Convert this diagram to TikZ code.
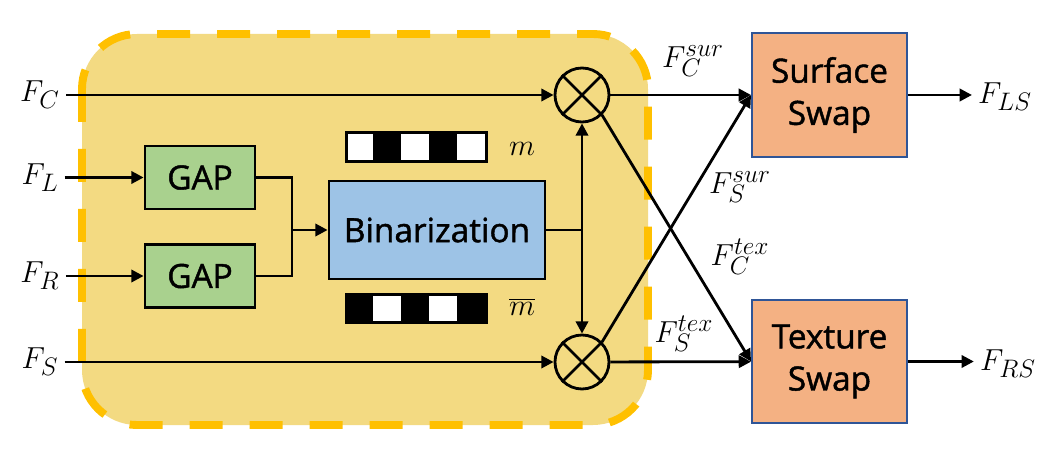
\documentclass[tikz,border=0pt]{standalone}
\usepackage{fontspec}
\setmainfont{Open Sans}
\newfontfamily\boxfont{Open Sans}[FakeBold=1.3]
\usetikzlibrary{arrows.meta,positioning,calc}

\definecolor{fillyellow}{RGB}{243,218,130}
\definecolor{dashyellow}{RGB}{255,192,0}
\definecolor{gapgreen}{RGB}{169,209,142}
\definecolor{binblue}{RGB}{157,195,230}
\definecolor{swaporange}{RGB}{244,177,131}
\definecolor{swapborder}{RGB}{47,85,151}

\begin{document}
\begin{tikzpicture}
[font=\fontsize{19}{24}\selectfont,
gapbox/.style={shape=rectangle,draw=black,line width=1.6pt,fill=gapgreen,minimum width=2.2cm,minimum height=1.26cm,font=\fontsize{19}{24}\boxfont},
binbox/.style={shape=rectangle,draw=black,line width=1.6pt,fill=binblue,minimum width=4.32cm,minimum height=1.96cm,font=\fontsize{19}{24}\boxfont},
swapbox/.style={shape=rectangle,draw=swapborder,line width=1.1pt,fill=swaporange,minimum width=3.1cm,minimum height=2.47cm,align=center,font=\fontsize{19}{24}\boxfont},
mulnode/.style={shape=circle,draw=black,line width=1.6pt,minimum size=1.08cm,inner sep=0pt},
maskbar/.style={shape=rectangle,draw=black,line width=1.6pt,fill=white,minimum width=2.8cm,minimum height=0.57cm,inner sep=0pt},
myedge/.style={line width=1.6pt},
myarrow/.style={myedge,-{Triangle[length=7pt,width=7pt]}}]

\useasboundingbox (0,0) rectangle (21.04,-9.04);

\draw[fill=fillyellow,draw=dashyellow,line width=4.5pt,dash pattern=on 0.66cm off 0.54cm,rounded corners=1.1cm] (1.64,-0.68) rectangle (12.96,-8.5);

\node (fc) at (0.8,-1.9) {$F_C$};
\node (fl) at (0.8,-3.55) {$F_L$};
\node (fr) at (0.8,-5.52) {$F_R$};
\node (fs) at (0.8,-7.24) {$F_S$};

\node (gap1) [gapbox] at (4.0,-3.55) {GAP};
\node (gap2) [gapbox] at (4.0,-5.52) {GAP};
\node (bin) [binbox] at (8.74,-4.6) {Binarization};

\node (mask) [maskbar] at (8.33,-2.94) {};
\foreach \i in {1,3}
  \fill ($(mask.south west)+(\i*0.56,0)$) rectangle ++(0.56,0.57);
\node (maskinv) [maskbar] at (8.33,-6.17) {};
\foreach \i in {0,2,4}
  \fill ($(maskinv.south west)+(\i*0.56,0)$) rectangle ++(0.56,0.57);
\node (mlab) at (10.44,-2.98) {$m$};
\node (mbarlab) at (10.44,-6.14) {$\overline{m}$};

\node (mul1) [mulnode] at (11.64,-1.9) {};
\node (mul2) [mulnode] at (11.64,-7.24) {};
\draw[myedge] (mul1.north west) -- (mul1.south east) (mul1.north east) -- (mul1.south west);
\draw[myedge] (mul2.north west) -- (mul2.south east) (mul2.north east) -- (mul2.south west);

\node (surf) [swapbox] at (16.59,-1.9) {Surface\\Swap};
\node (tex) [swapbox] at (16.59,-7.23) {Texture\\Swap};
\node (fls) at (20.1,-1.94) {$F_{LS}$};
\node (frs) at (20.16,-7.27) {$F_{RS}$};

\node (fcsur) at (13.86,-1.22) {$F_C^{sur}$};
\node (fssur) at (14.8,-3.74) {$F_S^{sur}$};
\node (fctex) at (14.8,-5.14) {$F_C^{tex}$};
\node (fstex) at (13.68,-6.68) {$F_S^{tex}$};

\coordinate (jn) at (5.84,-4.6);
\coordinate (bj) at (mul1 |- bin);

\draw[myarrow] (fc) -- (mul1);
\draw[myarrow] (fl) -- (gap1);
\draw[myarrow] (fr) -- (gap2);
\draw[myarrow] (fs) -- (mul2);
\draw[myedge] (gap1) -| (jn) |- (gap2);
\draw[myarrow] (jn) -- (bin);
\draw[myedge] (bin) -- (bj);
\draw[myedge,{Triangle[length=7pt,width=7pt]}-{Triangle[length=7pt,width=7pt]}] (mul1) -- (mul2);
\draw[myarrow] (mul1) -- (surf);
\draw[myarrow] (mul2) -- (tex);
\draw[myarrow] (mul1.south east) -- (tex.west);
\draw[myarrow] (mul2.north east) -- (surf.west);
\draw[myarrow] (surf) -- (fls.west |- surf);
\draw[myarrow] (tex) -- (frs.west |- tex);

\end{tikzpicture}
\end{document}
